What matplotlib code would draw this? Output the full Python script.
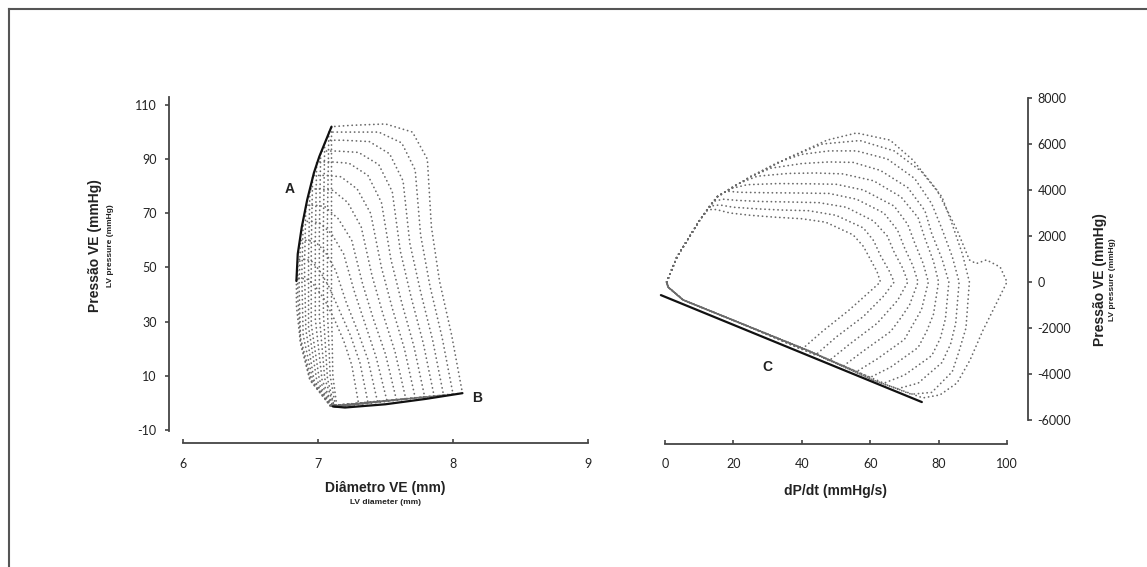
import matplotlib
matplotlib.use('Agg')
import matplotlib.pyplot as plt
from matplotlib.lines import Line2D

plt.rcParams['font.family'] = ['Liberation Sans', 'DejaVu Sans']
plt.rcParams['axes.unicode_minus'] = False

# ---------------- data: left panel (pressure vs diameter) ----------------
diam_ticks = [6, 7, 8, 9]
diam_ticklabels = ['6', '7', '8', '9']
lvp_ticks = [-10, 10, 30, 50, 70, 90, 110]
lvp_ticklabels = ['-10', '10', '30', '50', '70', '90', '110']

pd_loops_diam = [
    [7.14, 7.50, 8.07, 7.99, 7.90, 7.84, 7.81, 7.70, 7.50, 7.25, 7.10, 7.10, 7.10, 7.11, 7.14],
    [7.13, 7.45, 8.00, 7.92, 7.83, 7.76, 7.72, 7.62, 7.45, 7.22, 7.08, 7.07, 7.07, 7.09, 7.13],
    [7.12, 7.42, 7.93, 7.85, 7.76, 7.68, 7.63, 7.53, 7.38, 7.18, 7.05, 7.04, 7.04, 7.07, 7.12],
    [7.12, 7.40, 7.86, 7.78, 7.69, 7.61, 7.55, 7.45, 7.30, 7.14, 7.02, 7.01, 7.01, 7.05, 7.12],
    [7.11, 7.38, 7.79, 7.71, 7.62, 7.54, 7.47, 7.37, 7.23, 7.10, 6.99, 6.98, 6.98, 7.03, 7.11],
    [7.11, 7.35, 7.72, 7.64, 7.55, 7.47, 7.39, 7.29, 7.17, 7.06, 6.96, 6.95, 6.95, 7.01, 7.11],
    [7.10, 7.32, 7.65, 7.57, 7.48, 7.40, 7.32, 7.22, 7.11, 7.02, 6.94, 6.93, 6.93, 6.99, 7.10],
    [7.10, 7.30, 7.58, 7.50, 7.41, 7.33, 7.25, 7.15, 7.05, 6.98, 6.91, 6.90, 6.91, 6.97, 7.10],
    [7.10, 7.27, 7.51, 7.43, 7.35, 7.27, 7.19, 7.10, 7.01, 6.95, 6.89, 6.88, 6.89, 6.96, 7.10],
    [7.09, 7.24, 7.44, 7.37, 7.29, 7.21, 7.13, 7.05, 6.98, 6.92, 6.87, 6.86, 6.87, 6.95, 7.09],
    [7.09, 7.21, 7.37, 7.31, 7.24, 7.16, 7.08, 7.01, 6.95, 6.90, 6.85, 6.85, 6.87, 6.94, 7.09],
    [7.09, 7.18, 7.30, 7.25, 7.19, 7.12, 7.05, 6.98, 6.93, 6.88, 6.84, 6.84, 6.87, 6.94, 7.09],
]
pd_loops_press = [
    [-1.5, 0.5, 3.6, 25, 45, 65, 90, 100, 103, 102.5, 102, 70, 35, 10, -1.5],
    [-1.5, 0.4, 3.3, 24, 43, 62, 86, 96, 100, 100, 100, 68, 34, 10, -1.5],
    [-1.4, 0.3, 2.9, 23, 41, 59, 82, 92, 96.5, 97, 97, 66, 33, 9, -1.4],
    [-1.3, 0.2, 2.6, 22, 39, 56, 78, 88, 92.5, 93, 93, 63, 32, 9, -1.3],
    [-1.2, 0.1, 2.3, 21, 37, 53, 74, 84, 88.5, 89, 89, 60, 31, 8.5, -1.2],
    [-1.2, 0.0, 1.9, 20, 35, 50, 70, 79, 83.5, 84, 84, 57, 29, 8.5, -1.2],
    [-1.1, -0.1, 1.6, 19, 33, 47, 65, 74, 78.5, 79, 79, 54, 28, 8.5, -1.1],
    [-1.1, -0.2, 1.3, 18, 31, 44, 60, 68, 72.5, 73, 73, 50, 27, 8.5, -1.1],
    [-1.0, -0.3, 0.9, 17, 29, 41, 55, 62.5, 66.5, 67, 67, 47, 25, 8.5, -1.0],
    [-1.0, -0.4, 0.6, 16, 27, 37, 49, 56, 59.5, 60, 60, 43, 24, 8.5, -1.0],
    [-1.0, -0.5, 0.2, 15, 25, 34, 43, 49, 52.5, 53, 53, 39, 23, 8.5, -1.0],
    [-1.0, -0.6, -0.1, 14, 23, 31, 38, 43, 45.5, 46, 46, 36, 22, 8.5, -1.0],
]
line_a_diam = [6.84, 6.85, 6.88, 6.92, 6.97, 7.01, 7.10]
line_a_press = [45, 55, 65, 75, 85, 91, 102]
line_b_diam = [7.11, 7.20, 7.50, 7.80, 8.07]
line_b_press = [-1.3, -1.7, -0.5, 1.5, 3.6]

# ---------------- data: right panel ----------------
dpdt_ticks = [0, 20, 40, 60, 80, 100]
dpdt_ticklabels = ['0', '20', '40', '60', '80', '100']
p2_ticks = [-6000, -4000, -2000, 0, 2000, 4000, 6000, 8000]
p2_ticklabels = ['-6000', '-4000', '-2000', '0', '2000', '4000', '6000', '8000']

ph_loops_x = [
    [0.5, 3.5, 10.2, 15.2, 24.9, 36.5, 47.4, 56, 65.8, 72.5, 79.5, 85.4, 89, 91, 94, 98, 100, 97, 93, 89.2, 85.4, 80.4, 75.4, 60.8, 41.5, 21.9, 5.3, 0.9, 0.5],
    [0.5, 3.5, 10.2, 15.2, 24.9, 36.5, 46, 57, 67, 75, 81, 84, 87, 89, 88.5, 88, 86, 84, 78, 72, 60.8, 41.5, 21.9, 5.3, 0.9, 0.5],
    [0.5, 3.5, 10.2, 15.2, 24.9, 33, 40, 48, 56, 65, 73, 78, 81, 84, 86, 85, 83.5, 81, 74, 68, 60.8, 41.5, 21.9, 5.3, 0.9, 0.5],
    [0.5, 3.5, 10.2, 15.2, 24.9, 31, 40, 48, 55, 63, 71, 76, 78, 81, 83, 82, 80.5, 78, 70, 64, 41.5, 21.9, 5.3, 0.9, 0.5],
    [0.5, 3.5, 10.2, 15.2, 21, 27, 36, 44, 52, 61, 69, 74, 76, 78.5, 80, 78.5, 76.5, 74, 66, 60, 41.5, 21.9, 5.3, 0.9, 0.5],
    [0.5, 3.5, 10.2, 15.2, 19, 24, 33, 42, 50, 58, 67, 71, 73, 75.5, 77, 75, 72.5, 70, 62, 56, 41.5, 21.9, 5.3, 0.9, 0.5],
    [0.5, 3.5, 10.2, 15.2, 18, 22, 30, 39, 48, 56, 64, 68, 70, 72.5, 74, 71.5, 69, 66, 58, 52, 41.5, 21.9, 5.3, 0.9, 0.5],
    [0.5, 3.5, 10.2, 14, 17, 21, 28, 36, 45, 53, 61, 65, 67, 69.5, 71, 68, 65, 62, 54, 48, 41.5, 21.9, 5.3, 0.9, 0.5],
    [0.5, 3.5, 10.2, 13, 16, 20, 27, 34, 42, 50, 58, 61, 63, 65.5, 67, 64, 61, 58, 50, 44, 21.9, 5.3, 0.9, 0.5],
    [0.5, 3.5, 10.2, 12.5, 15, 19, 25, 32, 40, 47, 55, 58, 60, 62, 63, 60, 57, 54, 46, 40, 21.9, 5.3, 0.9, 0.5],
]
ph_loops_y = [
    [0, 1090, 2700, 3700, 4570, 5430, 6170, 6480, 6170, 5300, 4000, 2260, 960, 800, 960, 650, 0, -900, -2090, -3390, -4390, -4910, -5040, -4260, -2960, -1780, -780, -220, 0],
    [0, 1090, 2700, 3700, 4570, 5430, 6000, 6150, 5700, 4800, 3700, 2500, 1200, 0, -1000, -2000, -3000, -3900, -4800, -4880, -4260, -2960, -1780, -780, -220, 0],
    [0, 1090, 2700, 3700, 4570, 5200, 5550, 5700, 5700, 5350, 4500, 3400, 2300, 1100, 0, -1800, -2700, -3500, -4400, -4640, -4260, -2960, -1780, -780, -220, 0],
    [0, 1090, 2700, 3700, 4570, 4950, 5150, 5220, 5200, 4850, 4100, 3100, 2100, 1000, 0, -1600, -2450, -3200, -4050, -4400, -2960, -1780, -780, -220, 0],
    [0, 1090, 2700, 3700, 4250, 4600, 4720, 4740, 4700, 4400, 3700, 2800, 1900, 900, 0, -1400, -2150, -2850, -3700, -4150, -2960, -1780, -780, -220, 0],
    [0, 1090, 2700, 3700, 4050, 4230, 4280, 4270, 4250, 4000, 3300, 2500, 1700, 800, 0, -1200, -1850, -2500, -3350, -3900, -2960, -1780, -780, -220, 0],
    [0, 1090, 2700, 3700, 3950, 3900, 3880, 3870, 3850, 3600, 3000, 2250, 1500, 700, 0, -1000, -1550, -2150, -3000, -3670, -2960, -1780, -780, -220, 0],
    [0, 1090, 2700, 3500, 3600, 3550, 3500, 3480, 3450, 3250, 2650, 2000, 1300, 600, 0, -800, -1300, -1800, -2700, -3420, -2960, -1780, -780, -220, 0],
    [0, 1090, 2700, 3300, 3350, 3250, 3180, 3130, 3100, 2900, 2350, 1800, 1150, 500, 0, -600, -1050, -1500, -2400, -3180, -1780, -780, -220, 0],
    [0, 1090, 2700, 3150, 3150, 3000, 2900, 2820, 2750, 2600, 2050, 1550, 1000, 450, 0, -400, -800, -1200, -2150, -2930, -1780, -780, -220, 0],
]
line_c_x = [-1.2, 75.1]
line_c_y = [-570, -5220]

# ---------------- figure ----------------
W, H = 1147, 567
fig = plt.figure(figsize=(W / 100, H / 100), dpi=100)


def fx(px):
    return px / W


def fy(py):
    return 1 - py / H


dot_kw = dict(color='#6a6a6a', linewidth=1.25, linestyle=(0, (0.1, 2.4)),
              dash_capstyle='round', clip_on=False)
tick_font = dict(family=['Lato', 'DejaVu Sans'], size=9)

# Left axes
axL = fig.add_axes([fx(183), fy(430), fx(588) - fx(183), fy(105) - fy(430)])
axL.set_xlim(6, 9)
axL.set_ylim(-10, 110)
for xs, ys in zip(pd_loops_diam, pd_loops_press):
    axL.plot(xs, ys, **dot_kw)
axL.plot(line_a_diam, line_a_press, color='#111111', linewidth=1.6, clip_on=False, solid_capstyle='round')
axL.plot(line_b_diam, line_b_press, color='#111111', linewidth=1.6, clip_on=False, solid_capstyle='round')
axL.text(6.79, 79, 'A', fontsize=10, fontweight='bold', ha='center', va='center', color='#222')
axL.text(8.18, 2.0, 'B', fontsize=10, fontweight='bold', ha='center', va='center', color='#222')

axL.spines['top'].set_visible(False)
axL.spines['right'].set_visible(False)
axL.spines['left'].set_position(('outward', 10))
axL.spines['bottom'].set_position(('outward', 9.5))
axL.spines['left'].set_bounds(-10.5, 113)
axL.spines['bottom'].set_bounds(6, 9)
for s in ('left', 'bottom'):
    axL.spines[s].set_color('#444444')
    axL.spines[s].set_linewidth(1.3)
axL.set_xticks(diam_ticks)
axL.set_xticklabels(diam_ticklabels, **tick_font)
axL.set_yticks(lvp_ticks)
axL.set_yticklabels(lvp_ticklabels, **tick_font)
axL.tick_params(axis='x', direction='in', length=3, width=1.2, color='#444444', pad=11, labelcolor='#222')
axL.tick_params(axis='y', direction='out', length=3, width=1.2, color='#444444', pad=6, labelcolor='#222')
axL.patch.set_visible(False)

# Right axes
axR = fig.add_axes([fx(665), fy(420), fx(1007) - fx(665), fy(98) - fy(420)])
axR.set_xlim(0, 100)
axR.set_ylim(-6000, 8000)
for xs, ys in zip(ph_loops_x, ph_loops_y):
    axR.plot(xs, ys, **dot_kw)
axR.plot(line_c_x, line_c_y, color='#111111', linewidth=1.6, clip_on=False, solid_capstyle='round')
axR.text(29.8, -3700, 'C', fontsize=10, fontweight='bold', ha='center', va='center', color='#222')

axR.spines['top'].set_visible(False)
axR.spines['left'].set_visible(False)
axR.spines['right'].set_position(('outward', 15))
axR.spines['bottom'].set_position(('outward', 17))
axR.spines['bottom'].set_bounds(0, 100)
axR.spines['right'].set_bounds(-6000, 8000)
for s in ('right', 'bottom'):
    axR.spines[s].set_color('#444444')
    axR.spines[s].set_linewidth(1.3)
axR.yaxis.tick_right()
axR.set_xticks(dpdt_ticks)
axR.set_xticklabels(dpdt_ticklabels, **tick_font)
axR.set_yticks(p2_ticks)
axR.set_yticklabels(p2_ticklabels, **tick_font)
axR.tick_params(axis='x', direction='in', length=3, width=1.2, color='#444444', pad=10, labelcolor='#222')
axR.tick_params(axis='y', direction='out', length=3, width=1.2, color='#444444', pad=4, labelcolor='#222')
axR.patch.set_visible(False)

# Axis titles
lab = dict(fontsize=10, fontweight='bold', color='#222', ha='center', va='center')
sub = dict(fontsize=6, fontweight='bold', color='#222', ha='center', va='center')
fig.text(fx(95), fy(246), 'Pressão VE (mmHg)', rotation=90, **lab)
fig.text(fx(110), fy(246), 'LV pressure (mmHg)', rotation=90, **sub)
fig.text(fx(1100), fy(280), 'Pressão VE (mmHg)', rotation=90, **lab)
fig.text(fx(1112), fy(280), 'LV pressure (mmHg)', rotation=90, **sub)
fig.text(fx(385), fy(488), 'Diâmetro VE (mm)', **lab)
fig.text(fx(385), fy(502), 'LV diameter (mm)', **sub)
fig.text(fx(835), fy(491), 'dP/dt (mmHg/s)', **lab)

# Frame lines (left and top)
fig.add_artist(Line2D([fx(9), fx(9)], [fy(9), 0], color='#555555', linewidth=1.5, transform=fig.transFigure))
fig.add_artist(Line2D([fx(9), 1], [fy(9), fy(9)], color='#555555', linewidth=1.5, transform=fig.transFigure))

fig.savefig('out.png', dpi=100, facecolor='white')
